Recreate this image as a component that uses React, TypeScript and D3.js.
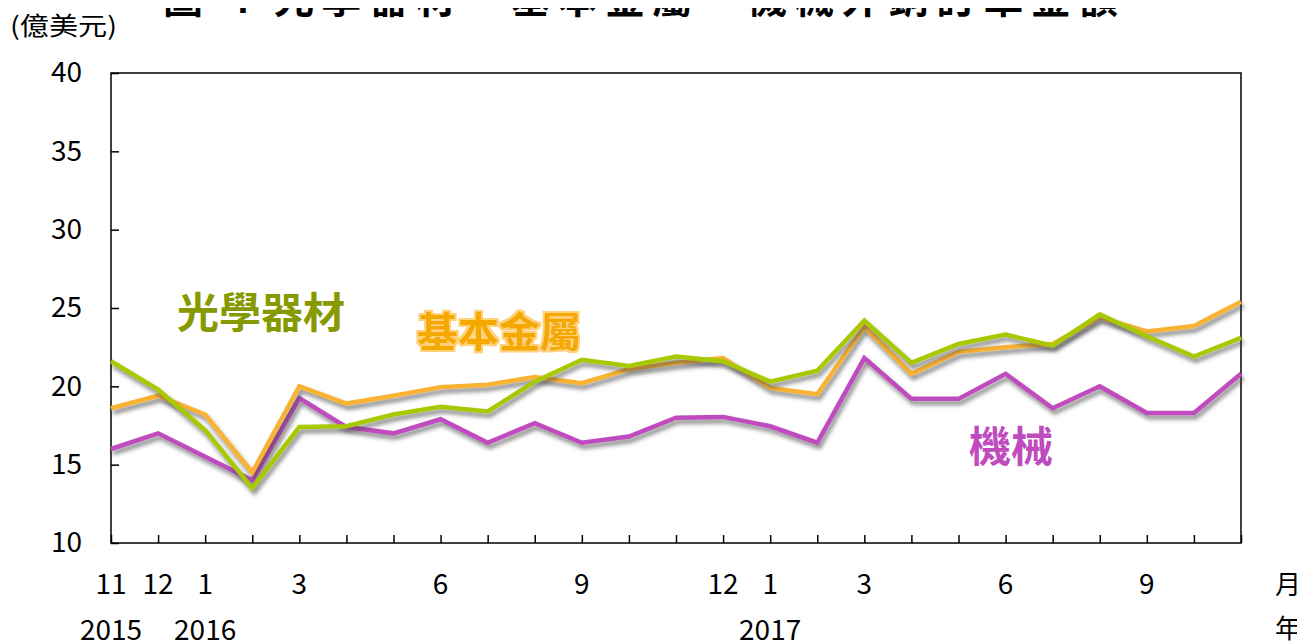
import React, { useEffect, useRef } from 'react';
import * as d3 from 'd3';

const months = [
  '2015-11', '2015-12', '2016-01', '2016-02', '2016-03', '2016-04', '2016-05',
  '2016-06', '2016-07', '2016-08', '2016-09', '2016-10', '2016-11', '2016-12',
  '2017-01', '2017-02', '2017-03', '2017-04', '2017-05', '2017-06', '2017-07',
  '2017-08', '2017-09', '2017-10', '2017-11'
];

// 光學器材
const optical = [
  21.6, 19.8, 17.2, 13.5, 17.4, 17.45, 18.2, 18.7, 18.4, 20.3, 21.7, 21.3, 21.9,
  21.6, 20.3, 21.0, 24.2, 21.5, 22.7, 23.3, 22.6, 24.6, 23.2, 21.9, 23.1
];

// 基本金屬
const metals = [
  18.6, 19.4, 18.2, 14.5, 20.0, 18.9, 19.4, 19.95, 20.1, 20.6, 20.2, 21.1, 21.5,
  21.8, 19.9, 19.5, 23.8, 20.8, 22.2, 22.5, 22.7, 24.4, 23.5, 23.85, 25.4
];

// 機械
const machinery = [
  16.0, 17.0, 15.5, 14.0, 19.25, 17.4, 17.0, 17.9, 16.4, 17.65, 16.4, 16.8, 18.0,
  18.05, 17.45, 16.4, 21.8, 19.2, 19.2, 20.8, 18.6, 20.0, 18.3, 18.3, 20.8
];

const yTicks = [10, 15, 20, 25, 30, 35, 40];

const monthLabels = [
  { month: '2015-11', label: '11' },
  { month: '2015-12', label: '12' },
  { month: '2016-01', label: '1' },
  { month: '2016-03', label: '3' },
  { month: '2016-06', label: '6' },
  { month: '2016-09', label: '9' },
  { month: '2016-12', label: '12' },
  { month: '2017-01', label: '1' },
  { month: '2017-03', label: '3' },
  { month: '2017-06', label: '6' },
  { month: '2017-09', label: '9' }
];

const yearLabels = [
  { month: '2015-11', label: '2015' },
  { month: '2016-01', label: '2016' },
  { month: '2017-01', label: '2017' }
];

const FONT = '"Noto Sans CJK TC", "Noto Sans", sans-serif';

const App = () => {
  const svgRef = useRef<SVGSVGElement>(null);

  useEffect(() => {
    const svg = d3.select(svgRef.current);
    svg.selectAll('*').remove();

    const margin = { top: 73, right: 64, bottom: 100, left: 111 };
    const width = 1305 - margin.left - margin.right;
    const height = 643 - margin.top - margin.bottom;

    const defs = svg.append('defs');
    const shadow = defs.append('filter').attr('id', 'shadow')
      .attr('x', '-10%').attr('y', '-20%').attr('width', '130%').attr('height', '150%');
    shadow.append('feDropShadow')
      .attr('dx', 2).attr('dy', 4).attr('stdDeviation', 2)
      .attr('flood-color', '#444').attr('flood-opacity', 0.65);

    const glow = defs.append('filter').attr('id', 'glow');
    glow.append('feMorphology').attr('in', 'SourceAlpha').attr('operator', 'dilate')
      .attr('radius', 1.5).attr('result', 'd');
    glow.append('feFlood').attr('flood-color', '#FFD27A');
    glow.append('feComposite').attr('in2', 'd').attr('operator', 'in').attr('result', 'o');
    const merge = glow.append('feMerge');
    merge.append('feMergeNode').attr('in', 'o');
    merge.append('feMergeNode').attr('in', 'SourceGraphic');

    const x = d3.scalePoint().domain(months).range([0, width]);
    const y = d3.scaleLinear().domain([10, 40]).range([height, 0]);

    // title (top cut off like the source)
    svg.append('text')
      .attr('x', 163).attr('y', 13)
      .attr('textLength', 955).attr('lengthAdjust', 'spacing')
      .attr('font-family', FONT).attr('font-weight', 'bold').attr('font-size', 40)
      .attr('fill', '#000')
      .text('圖 4  光學器材、基本金屬、機械外銷訂單金額');

    svg.append('text')
      .attr('x', 10).attr('y', 35)
      .attr('textLength', 107).attr('lengthAdjust', 'spacingAndGlyphs')
      .attr('font-family', FONT).attr('font-size', 25).attr('fill', '#000')
      .text('(億美元)');

    const g = svg.append('g').attr('transform', `translate(${margin.left},${margin.top})`);

    // frame
    g.append('rect')
      .attr('width', width).attr('height', height)
      .attr('fill', 'none').attr('stroke', '#000').attr('stroke-width', 1.5);

    const yAxis = g.append('g')
      .call(d3.axisLeft(y).tickValues(yTicks).tickSize(-8).tickPadding(29));
    yAxis.select('.domain').remove();
    yAxis.selectAll('line').attr('stroke', '#000').attr('stroke-width', 1.5);
    yAxis.selectAll('text')
      .attr('font-family', FONT).attr('font-size', 28).attr('fill', '#000');

    const xAxis = g.append('g')
      .attr('transform', `translate(0,${height})`)
      .call(d3.axisBottom(x).tickSize(-8).tickFormat(() => ''));
    xAxis.select('.domain').remove();
    xAxis.selectAll('line').attr('stroke', '#000').attr('stroke-width', 1.5);

    g.selectAll('.mlabel')
      .data(monthLabels)
      .enter()
      .append('text')
      .attr('class', 'mlabel')
      .attr('x', d => x(d.month) as number)
      .attr('y', height + 51)
      .attr('text-anchor', 'middle')
      .attr('font-family', FONT).attr('font-size', 28).attr('fill', '#000')
      .text(d => d.label);

    g.selectAll('.ylabel')
      .data(yearLabels)
      .enter()
      .append('text')
      .attr('class', 'ylabel')
      .attr('x', d => x(d.month) as number)
      .attr('y', height + 97)
      .attr('text-anchor', 'middle')
      .attr('font-family', FONT).attr('font-size', 28).attr('fill', '#000')
      .text(d => d.label);

    g.append('text')
      .attr('x', width + 47).attr('y', height + 51)
      .attr('text-anchor', 'middle')
      .attr('font-family', FONT).attr('font-size', 26).attr('fill', '#000')
      .text('月');
    g.append('text')
      .attr('x', width + 47).attr('y', height + 95)
      .attr('text-anchor', 'middle')
      .attr('font-family', FONT).attr('font-size', 26).attr('fill', '#000')
      .text('年');

    const line = d3.line<number>()
      .x((d, i) => x(months[i]) as number)
      .y(d => y(d));

    const series = [
      { values: machinery, color: '#C04BBE' },
      { values: metals, color: '#F9B233' },
      { values: optical, color: '#A8C800' }
    ];

    series.forEach(s => {
      g.append('path')
        .datum(s.values)
        .attr('d', line)
        .attr('fill', 'none')
        .attr('stroke', s.color)
        .attr('stroke-width', 4.5)
        .attr('stroke-linejoin', 'miter')
        .attr('filter', 'url(#shadow)');
    });

    // series labels
    svg.append('text')
      .attr('x', 261).attr('y', 328)
      .attr('text-anchor', 'middle')
      .attr('font-family', FONT).attr('font-weight', 'bold').attr('font-size', 42)
      .attr('fill', '#869A00')
      .text('光學器材');

    svg.append('text')
      .attr('x', 499).attr('y', 347)
      .attr('text-anchor', 'middle')
      .attr('font-family', FONT).attr('font-weight', 'bold').attr('font-size', 41)
      .attr('fill', '#F5A800')
      .attr('filter', 'url(#glow)')
      .text('基本金屬');

    svg.append('text')
      .attr('x', 1011).attr('y', 462)
      .attr('text-anchor', 'middle')
      .attr('font-family', FONT).attr('font-weight', 'bold').attr('font-size', 42)
      .attr('fill', '#C04BBE')
      .text('機械');
  }, []);

  return (
    <div>
      <svg width={1305} height={643} ref={svgRef} style={{ display: 'block', marginTop: -8, marginLeft: -8 }} />
    </div>
  );
};

export default App;
